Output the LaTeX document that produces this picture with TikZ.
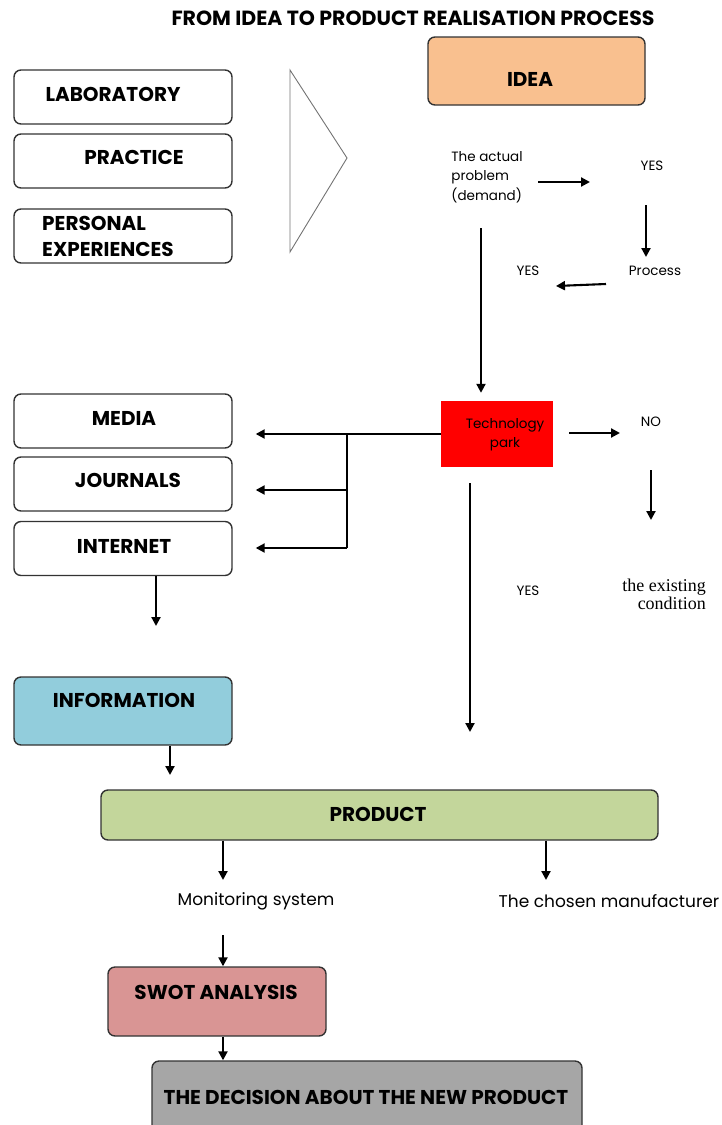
\documentclass[tikz,border=0pt]{standalone}
\usepackage{fontspec}
\setmainfont{Poppins}
\newfontfamily\condserif{Liberation Serif}
\usetikzlibrary{arrows.meta}

\definecolor{ideacol}{RGB}{249,192,143}
\definecolor{infocol}{RGB}{146,205,220}
\definecolor{prodcol}{RGB}{195,214,155}
\definecolor{swotcol}{RGB}{217,149,148}
\definecolor{decicol}{RGB}{166,166,166}
\definecolor{techcol}{RGB}{255,0,0}

\begin{document}
\begin{tikzpicture}[x=1pt,y=-1pt]

\tikzset{Box/.style = {draw=black!80, line width=1.4pt, rounded corners=7pt,
  minimum width=218pt, minimum height=54pt, inner sep=0pt}}
\tikzset{Label/.style = {font=\bfseries\fontsize{20}{26}\selectfont, inner sep=0pt, align=left}}
\tikzset{Small/.style = {font=\fontsize{13.5}{19.5}\selectfont, inner sep=0pt, align=left}}
\tikzset{Arrow/.style = {line width=2.1pt, -{Triangle[length=9pt,width=9pt]}}}

\useasboundingbox (0,0) rectangle (722,1125);

\node[Label, font=\bfseries\fontsize{20.5}{26}\selectfont] (title) at (413,18) {FROM IDEA TO PRODUCT REALISATION PROCESS};

% sources of the idea
\node[Box] (lab) at (123,97) {};
\node[Box] (prac) at (123,161) {};
\node[Box] (pers) at (123,236) {};
\node[Label] (labtxt) at (113,94) {LABORATORY};
\node[Label] (practxt) at (134,157) {PRACTICE};
\node[Label] (perstxt) at (108,236) {PERSONAL\\EXPERIENCES};
\draw[black!55, line width=0.9pt] (290,70) -- (347,158) -- (290,252) -- cycle;

% idea
\node[Box, fill=ideacol, minimum width=217pt, minimum height=68pt] (idea) at (536.5,71) {};
\node[Label] (ideatxt) at (530,79) {IDEA};
\node[Small] (problem) at (487,177) {The actual\\problem\\(demand)};
\node[Small] (yes1) at (652,166) {YES};
\node[Small] (proc) at (655,271) {Process};
\node[Small] (yes2) at (528,271) {YES};

\coordinate (p1) at (538,182);
\coordinate (p2) at (590,182);
\coordinate (p3) at (646,205);
\coordinate (p4) at (646,257);
\coordinate (p5) at (606,284);
\coordinate (p6) at (556,286);
\coordinate (p7) at (481,228);
\draw[Arrow] (p1) -- (p2);
\draw[Arrow] (p3) -- (p4);
\draw[Arrow] (p5) -- (p6);

% technology park
\node[fill=techcol, minimum width=112pt, minimum height=66pt, inner sep=0pt] (tech) at (497,434) {};
\node[Small, align=center] (techtxt) at (505,435) {Technology\\park};
\draw[Arrow, shorten >=8pt] (p7) -- (p7 |- tech.north);

\node[Small] (no) at (651,422) {NO};
\node[Small, font=\condserif\fontsize{18}{18}\selectfont, align=right] (exist) at (664,594) {the existing\\condition};
\node[Small] (yes3) at (528,591) {YES};
\coordinate (t1) at (569,433);
\coordinate (t2) at (620,433);
\coordinate (t3) at (651,470);
\coordinate (t4) at (651,520);
\coordinate (t5) at (470,483);
\coordinate (t6) at (470,732);
\draw[Arrow] (t1) -- (t2);
\draw[Arrow] (t3) -- (t4);
\draw[Arrow] (t5) -- (t6);

% information sources
\node[Box] (media) at (123,421) {};
\node[Box] (jour) at (123,484) {};
\node[Box] (inet) at (123,548.5) {};
\node[Label] (mediatxt) at (124,418) {MEDIA};
\node[Label] (jourtxt) at (128,480) {JOURNALS};
\node[Label] (inettxt) at (124,546) {INTERNET};

\coordinate (f1) at (347,434);
\coordinate (f2) at (347,490);
\coordinate (f3) at (347,548);
\draw[Arrow, shorten >=23pt] (tech.west) -- (media.east |- tech.west);
\draw[line width=2.1pt] (f1) -- (f3);
\draw[Arrow, shorten >=23pt] (f2) -- (jour.east |- f2);
\draw[Arrow, shorten >=23pt] (f3) -- (inet.east |- f3);

\node[Box, fill=infocol, minimum height=68pt] (info) at (123,711) {};
\node[Label] (infotxt) at (124,700) {INFORMATION};
\coordinate (i1) at (156,626);
\draw[Arrow] (inet.south -| i1) -- (i1);

% product
\node[Box, fill=prodcol, minimum width=557pt, minimum height=50pt] (prod) at (379.5,815) {};
\node[Label] (prodtxt) at (378,814) {PRODUCT};
\coordinate (i2) at (170,775);
\draw[Arrow] (info.south -| i2) -- (i2);

\node[Small, font=\fontsize{17}{18}\selectfont] (monit) at (256,901) {Monitoring system};
\node[Small, font=\fontsize{17}{18}\selectfont] (manuf) at (609,901) {The chosen manufacturer};
\coordinate (m1) at (223,880);
\coordinate (m2) at (546,880);
\draw[Arrow] (prod.south -| m1) -- (m1);
\draw[Arrow] (prod.south -| m2) -- (m2);

% swot and decision
\node[Box, fill=swotcol, minimum height=69pt] (swot) at (217,1001.5) {};
\node[Label] (swottxt) at (216,992) {SWOT ANALYSIS};
\node[Box, fill=decicol, minimum width=430pt, minimum height=80pt] (deci) at (367,1101) {};
\node[Label] (decitxt) at (366,1097) {THE DECISION ABOUT THE NEW PRODUCT};
\coordinate (s1) at (223,935);
\draw[Arrow] (s1) -- (s1 |- swot.north);
\draw[Arrow] (swot.south -| s1) -- (s1 |- deci.north);

\end{tikzpicture}
\end{document}
